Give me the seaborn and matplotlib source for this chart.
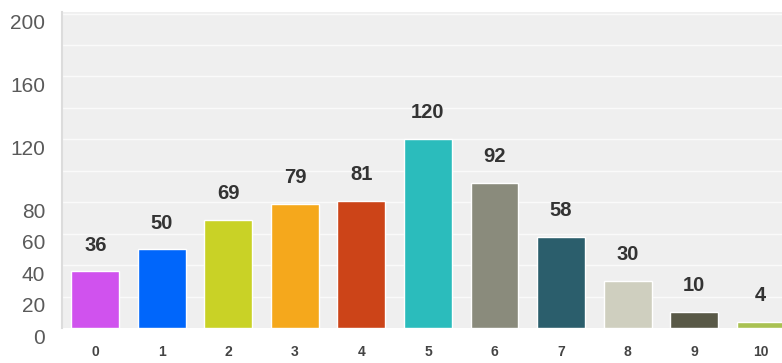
import matplotlib
matplotlib.use("Agg")
import matplotlib.pyplot as plt
from matplotlib.transforms import ScaledTranslation
import seaborn as sns
import pandas as pd

# Response counts per score
scores = ["0", "1", "2", "3", "4", "5", "6", "7", "8", "9", "10"]
counts = [36, 50, 69, 79, 81, 120, 92, 58, 30, 10, 4]
bar_colors = ["#d052ee", "#0066fb", "#c9d226", "#f5a81c", "#cc4418", "#2bbcbc",
              "#8a8b7c", "#2b5e6c", "#cfcfbf", "#595947", "#a9c152"]
y_ticks = [0, 20, 40, 60, 80, 120, 160, 200]

sns.set_theme(style="white")
plt.rcParams["font.family"] = ["Liberation Sans", "DejaVu Sans"]

df = pd.DataFrame({"score": scores, "count": counts})

fig = plt.figure(figsize=(7.82, 3.63), dpi=100)
ax = fig.add_axes([62 / 782, 35 / 363, 1 - 62 / 782, 316 / 363])
ax.set_facecolor("#efefef")

sns.barplot(data=df, x="score", y="count", hue="score", order=scores,
            hue_order=scores, palette=bar_colors, width=0.72, saturation=1,
            legend=False, ax=ax, zorder=3)

# faint horizontal rules every 20
for v in range(20, 201, 20):
    ax.axhline(v, color="#fafafa", lw=1.0, zorder=1)

ax.set_xlim(-0.5, 10.32)
ax.set_ylim(0, 201)
ax.set_xlabel("")
ax.set_ylabel("")

for s in ["top", "right", "bottom"]:
    ax.spines[s].set_visible(False)
ax.spines["left"].set_color("#dcdcdc")
ax.spines["left"].set_linewidth(1.5)

ax.set_yticks(y_ticks)
ax.set_yticklabels([str(t) for t in y_ticks], fontsize=15, color="#5a5a5a")
ax.tick_params(axis="y", length=0, pad=12)
offset = ScaledTranslation(0, -8 / 100, fig.dpi_scale_trans)
for lbl in ax.get_yticklabels():
    lbl.set_transform(lbl.get_transform() + offset)

ax.tick_params(axis="x", length=0, pad=12, labelsize=10, labelcolor="#444444")
for lbl in ax.get_xticklabels():
    lbl.set_fontweight("bold")

for i, c in enumerate(counts):
    ax.annotate(str(c), (i, c), xytext=(0, 19), textcoords="offset points",
                ha="center", va="center", fontsize=14.5, fontweight="bold",
                color="#333333", zorder=4)

fig.savefig("out.png", dpi=100)
